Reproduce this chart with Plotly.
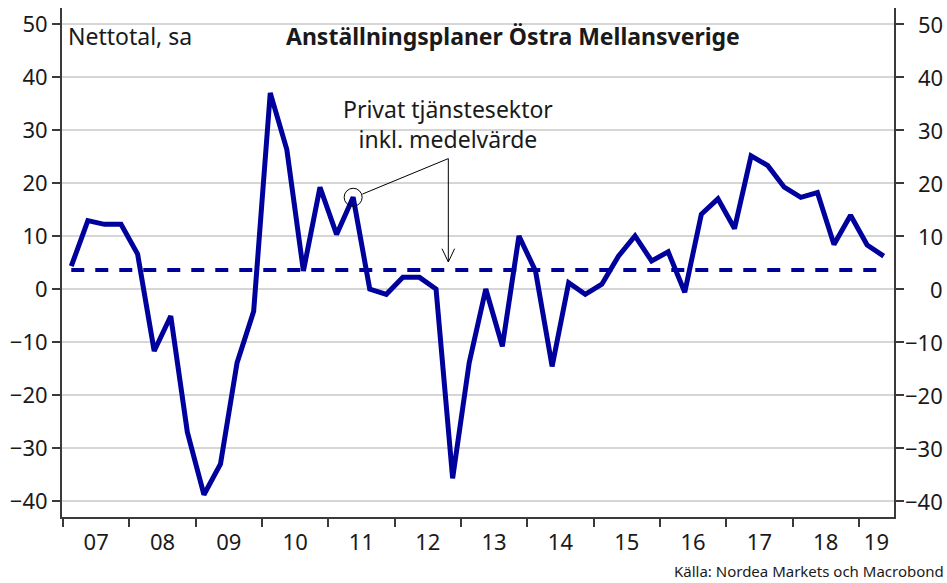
import plotly.graph_objects as go

# ---- data ----
start_year = 2007
n_quarters = 50  # 2007Q1 .. 2019Q2
values = [4.3, 12.9, 12.2, 12.2, 6.6, -11.7, -5.1, -27.0, -38.8, -33.0, -13.9, -4.2,
          37.0, 26.3, 3.4, 19.2, 10.3, 17.3, 0.0, -1.0, 2.2, 2.2, 0.0, -35.7,
          -13.9, 0.0, -10.8, 10.0, 3.4, -14.6, 1.2, -1.0, 0.9, 6.2, 10.0, 5.3,
          7.0, -0.6, 14.1, 17.0, 11.4, 25.1, 23.3, 19.2, 17.3, 18.2, 8.4, 13.9,
          8.3, 6.2]
mean_value = 3.6
years = list(range(2007, 2020))
year_labels = ["07", "08", "09", "10", "11", "12", "13", "14", "15", "16", "17", "18", "19"]
y_ticks = [-40, -30, -20, -10, 0, 10, 20, 30, 40, 50]

x_range = [2006.985, 2019.53]
y_range = [-43, 53]

x = [start_year + q * 0.25 + 0.125 for q in range(n_quarters)]
label_pos = [min(yr + 0.5, (yr + x_range[1]) / 2) for yr in years]

BLUE = "#00009C"
AXC = "#3a3a3a"
FONT = "Noto Sans"
TXT = "#1a1a1a"
TICK_SIZE = 22
TEXT_SIZE = 23

fig = go.Figure()
fig.add_trace(go.Scatter(x=x, y=[mean_value] * len(x), mode="lines",
                         line=dict(color=BLUE, width=4, dash="13px,11px"),
                         xaxis="x2", yaxis="y2", hoverinfo="skip"))
fig.add_trace(go.Scatter(x=x, y=values, mode="lines",
                         line=dict(color=BLUE, width=5), xaxis="x", yaxis="y"))

fig.update_layout(
    width=947, height=583,
    margin=dict(l=62, r=53, t=8, b=66),
    paper_bgcolor="white", plot_bgcolor="white",
    showlegend=False,
    font=dict(family=FONT, color=TXT),
    xaxis=dict(range=x_range, tickvals=years, showticklabels=False,
               ticks="outside", ticklen=8, tickwidth=1.5, tickcolor=AXC,
               showline=True, linecolor=AXC, linewidth=2, showgrid=False,
               zeroline=False, anchor="y"),
    xaxis2=dict(range=x_range, matches="x", overlaying="x", side="bottom", anchor="y",
                tickvals=label_pos, ticktext=year_labels, ticks="",
                ticklabelstandoff=10,
                showline=False, showgrid=False, zeroline=False,
                tickfont=dict(size=TICK_SIZE, family=FONT, color=TXT)),
    yaxis=dict(range=y_range, tickvals=y_ticks, ticks="outside", ticklen=8,
               tickwidth=1.5, tickcolor=AXC, showline=True, linecolor=AXC,
               linewidth=2, gridcolor="#d6d6d6", gridwidth=1.5, zeroline=False,
               tickfont=dict(size=TICK_SIZE, family=FONT, color=TXT), anchor="x"),
    yaxis2=dict(range=y_range, matches="y", overlaying="y", side="right", anchor="x",
                tickvals=y_ticks, ticks="outside", ticklen=8, tickwidth=1.5,
                tickcolor=AXC, showline=True, linecolor=AXC, linewidth=2,
                showgrid=False, zeroline=False, showticklabels=False),
)

annotations = []
# right-side tick labels, right aligned at the page edge
for v in y_ticks:
    annotations.append(dict(x=1 + (945 - 894) / 832, xref="paper", y=v, yref="y",
                            text=str(v).replace("-", "\u2212"), showarrow=False,
                            xanchor="right", yanchor="middle",
                            font=dict(size=TICK_SIZE, family=FONT, color=TXT)))
annotations += [
    dict(x=(66 - 62) / 832, xref="paper", y=1, yref="paper", yanchor="top", yshift=-10,
         text="Nettotal, sa", showarrow=False, xanchor="left",
         font=dict(size=TEXT_SIZE, family=FONT, color=TXT)),
    dict(x=(513 - 62) / 832, xref="paper", y=1, yref="paper", yanchor="top",
         text="<b>Anställningsplaner Östra Mellansverige</b>", showarrow=False,
         xanchor="center", yshift=-10,
         font=dict(size=TEXT_SIZE, family=FONT, color=TXT)),
    dict(x=2012.81, xref="x", y=31.2, yref="y", text="Privat tjänstesektor<br>inkl. medelvärde",
         showarrow=False, xanchor="center", yanchor="middle",
         font=dict(size=TEXT_SIZE, family=FONT, color=TXT)),
    dict(x=1, xref="paper", y=0, yref="paper", yanchor="bottom", yshift=-66,
         xshift=52,
         text="Källa: Nordea Markets och Macrobond", showarrow=False, xanchor="right",
         font=dict(size=15, family=FONT, color=TXT)),
]
fig.update_layout(annotations=annotations)

# callout: circle on 2011Q2 point, leader line, arrow to mean line
hl = 17
shapes = [
    dict(type="circle", xref="x", yref="y", xsizemode="pixel", ysizemode="pixel",
         xanchor=x[hl], yanchor=values[hl], x0=-9, x1=9, y0=-9, y1=9,
         line=dict(color="black", width=1)),
    dict(type="line", xref="x", yref="y", x0=2011.514, y0=17.9, x1=2012.81, y1=24.6,
         line=dict(color="black", width=1)),
    dict(type="line", xref="x", yref="y", x0=2012.81, y0=24.6, x1=2012.81, y1=5.1,
         line=dict(color="black", width=1)),
    dict(type="path", xref="x", yref="y",
         path="M 2012.715 7.6 L 2012.81 5.1 L 2012.905 7.6",
         line=dict(color="black", width=1)),
]
fig.update_layout(shapes=shapes)

fig.write_html("out.html", post_script="document.body.style.margin='0';",
               config={"displayModeBar": False})
